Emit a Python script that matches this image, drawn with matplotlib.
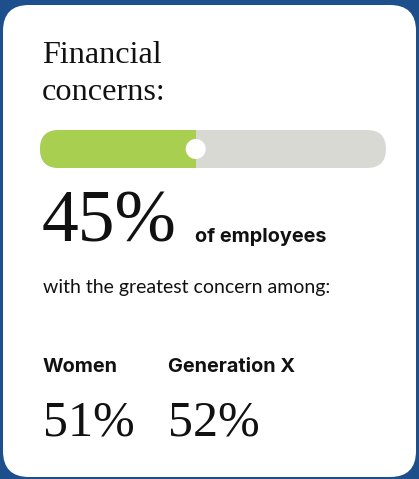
import matplotlib
matplotlib.use("Agg")
import matplotlib.pyplot as plt
from matplotlib.patches import FancyBboxPatch, Circle

# headline share and the two group breakdowns
topic = ["Financial", "concerns:"]
share_all = 45
share_unit = "of employees"
subtitle = "with the greatest concern among:"
groups = ["Women", "Generation X"]
group_shares = [51, 52]

W, H = 419, 479
fig = plt.figure(figsize=(W / 100, H / 100), dpi=100)
fig.patch.set_facecolor("#1c4f8b")
ax = fig.add_axes([0, 0, 1, 1])
ax.set_xlim(0, W)
ax.set_ylim(H, 0)
ax.axis("off")

SERIF = "Liberation Serif"
SANS = "Lato"
SANS_BOLD = "Inter"

# white card
ax.add_patch(FancyBboxPatch((3, 5), 413, 472, boxstyle="round,pad=0,rounding_size=26",
                            fc="white", ec="none"))

# title
ax.text(42, 63, topic[0], fontsize=23.2, family=SERIF, color="#111111", va="baseline")
ax.text(42, 100, topic[1], fontsize=23.2, family=SERIF, color="#111111", va="baseline")

# progress bar
bx, by, bw, bh = 40, 130, 346, 38
ax.add_patch(FancyBboxPatch((bx, by), bw, bh, boxstyle=f"round,pad=0,rounding_size={bh / 2}",
                            fc="#d9d9d4", ec="none"))
fill_w = bw * share_all / 100
left = FancyBboxPatch((bx, by), bw, bh, boxstyle=f"round,pad=0,rounding_size={bh / 2}",
                      fc="#a9cf51", ec="none")
ax.add_patch(left)
clip = plt.Rectangle((bx, by), fill_w, bh, transform=ax.transData)
left.set_clip_path(clip)
ax.add_patch(Circle((bx + fill_w, by + bh / 2), 10, fc="white", ec="none"))

# big number
ax.text(42, 241, f"{share_all}%", fontsize=53, family=SERIF, color="#111111", va="baseline")
ax.text(195, 242, share_unit, fontsize=14.3, family=SANS_BOLD, weight="bold", color="#111111",
        va="baseline")
ax.text(43, 293, subtitle, fontsize=14, family=SANS, color="#111111", va="baseline")

# group breakdown
for gx, name, val in zip([43, 168], groups, group_shares):
    ax.text(gx, 372, name, fontsize=14.3, family=SANS_BOLD, weight="bold", color="#111111",
            va="baseline")
    ax.text(gx, 435, f"{val}%", fontsize=36, family=SERIF, color="#111111", va="baseline")

fig.savefig("out.png", dpi=100, facecolor=fig.get_facecolor())
